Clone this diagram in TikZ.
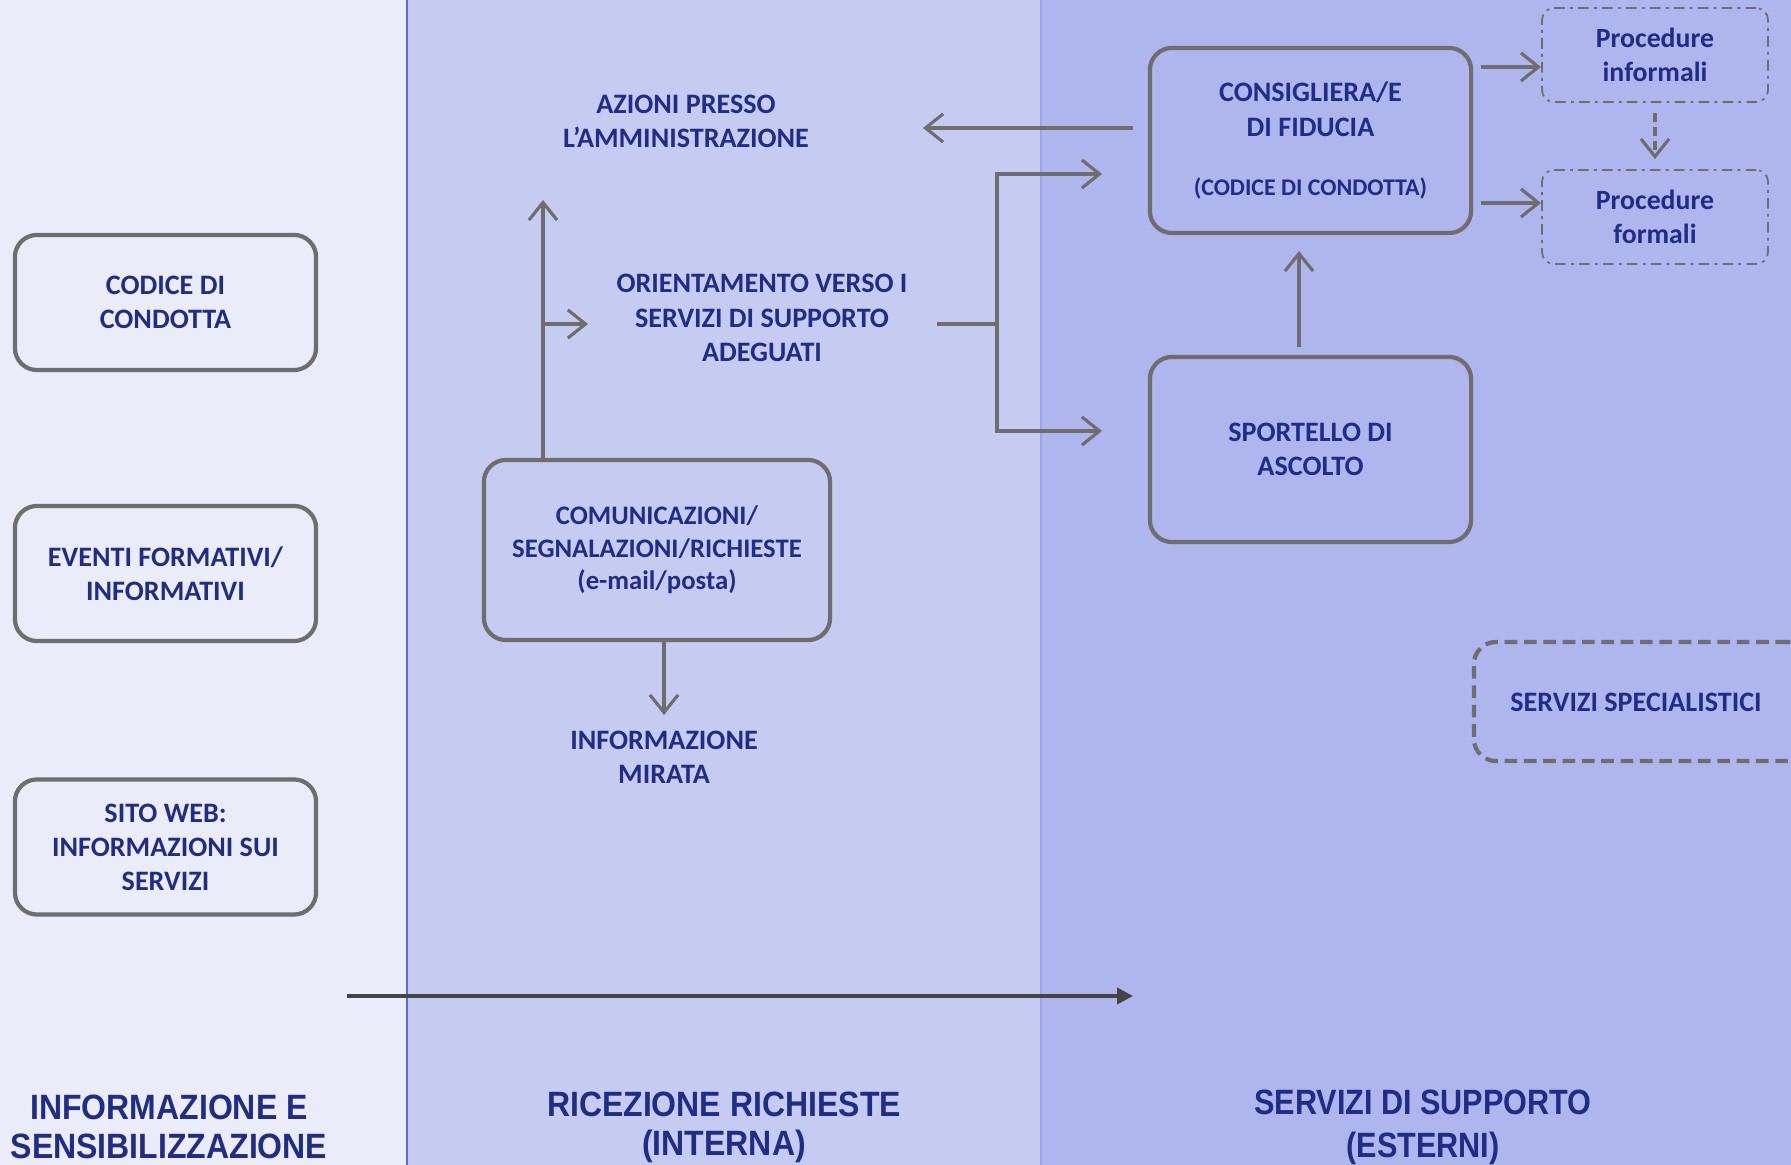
\documentclass[tikz,border=0pt]{standalone}
\usepackage{fontspec}
\setmainfont{Carlito}
\newfontfamily\titlefont[FakeStretch=0.91]{Liberation Sans}
\newfontfamily\titlefontnarrow[FakeStretch=0.87]{Liberation Sans}
\usetikzlibrary{arrows.meta}

\definecolor{colone}{RGB}{234,236,249}
\definecolor{coltwo}{RGB}{198,203,241}
\definecolor{colthree}{RGB}{175,182,238}
\definecolor{textblue}{RGB}{33,44,132}
\definecolor{linegray}{RGB}{110,110,110}
\definecolor{darkgray}{RGB}{68,68,68}
\definecolor{sepblue}{RGB}{90,105,220}
\definecolor{seplight}{RGB}{155,163,232}

\newcommand{\bodyfont}{\bfseries\fontsize{8}{9.7}\selectfont}
\newcommand{\procfont}{\bfseries\fontsize{7.9}{9.5}\selectfont}
\newcommand{\colfont}{\titlefont\bfseries\fontsize{10}{11.1}\selectfont}

\tikzset{
	box/.style={draw=linegray, line width=1.2pt, rounded corners=0.22cm, inner sep=0pt,
		text=textblue, align=center, font=\bodyfont},
	procbox/.style={draw=linegray, line width=0.5pt, rounded corners=0.12cm, inner sep=0pt,
		dash pattern=on 3pt off 1.5pt on 0.8pt off 1.5pt,
		minimum width=2.26cm, minimum height=0.94cm,
		text=textblue, align=center, font=\procfont},
	lbl/.style={text=textblue, align=center, font=\bodyfont},
	coltitle/.style={text=textblue, align=center, font=\colfont},
	arr/.style={draw=linegray, line width=0.9pt, -{Straight Barb[length=5pt,width=8pt]}},
	link/.style={draw=linegray, line width=0.9pt},
}

\begin{document}
\begin{tikzpicture}[x=0.01cm, y=-0.01cm]
	\useasboundingbox (0,0) rectangle (1791,1165);
	\clip (0,0) rectangle (1791,1165);
	% columns
	\fill[colone] (0,0) rectangle (407,1165);
	\fill[coltwo] (407,0) rectangle (1041,1165);
	\fill[colthree] (1041,0) rectangle (1791,1165);
	\draw[sepblue, line width=0.7pt] (407,0) -- (407,1165);
	\draw[seplight, line width=0.5pt] (1041,0) -- (1041,1165);

	% left column
	\node[box, minimum width=3.01cm, minimum height=1.35cm] (codice) at (165.5,302.5) {CODICE DI\\CONDOTTA};
	\node[box, minimum width=3.01cm, minimum height=1.35cm] (eventi) at (165.5,573.5) {EVENTI FORMATIVI/\\INFORMATIVI};
	\node[box, minimum width=3.01cm, minimum height=1.35cm] (sito) at (165.5,847) {SITO WEB:\\INFORMAZIONI SUI\\SERVIZI};

	% middle column
	\node[box, minimum width=3.46cm, minimum height=1.80cm, font=\bfseries\fontsize{7.6}{9.3}\selectfont] (comunic) at (657,550) {COMUNICAZIONI/\\SEGNALAZIONI/RICHIESTE\\(e-mail/posta)};
	\node[lbl] (azioni) at (686,121) {AZIONI PRESSO\\L’AMMINISTRAZIONE};
	\node[lbl] (orient) at (762,318) {ORIENTAMENTO VERSO I\\SERVIZI DI SUPPORTO\\ADEGUATI};
	\node[lbl] (mirata) at (664,757) {INFORMAZIONE\\MIRATA};

	% right column
	\node[box, minimum width=3.21cm, minimum height=1.85cm] (consigl) at (1310.5,140.5)
		{CONSIGLIERA/E\\DI FIDUCIA\\[0.25cm]{\bfseries\fontsize{6.8}{9}\selectfont(CODICE DI CONDOTTA)}};
	\node[box, minimum width=3.21cm, minimum height=1.85cm] (sportello) at (1310.5,449.5) {SPORTELLO DI\\ASCOLTO};
	\node[procbox] (informali) at (1655,55) {Procedure\\informali};
	\node[procbox] (formali) at (1655,217) {Procedure\\formali};
	\node[box, dash pattern=on 3.6pt off 1.9pt, minimum width=3.36cm, minimum height=1.19cm] (special) at (1642,701.5) {};
	\node[lbl] (speclbl) at (1636,702) {SERVIZI SPECIALISTICI};

	% column titles
	\node[coltitle] (titone) at (169,1127) {INFORMAZIONE E\\SENSIBILIZZAZIONE};
	\node[coltitle] (tittwo) at (724,1127) {RICEZIONE RICHIESTE\\(INTERNA)};
	\node[coltitle, font=\titlefontnarrow\bfseries\fontsize{10}{12.2}\selectfont] (titthree) at (1423,1127) {SERVIZI DI SUPPORTO\\(ESTERNI)};

	% connectors
	\coordinate (up) at (543,200);
	\coordinate (branch) at (543,324);
	\coordinate (toorient) at (588,324);
	\coordinate (fromorient) at (937,324);
	\coordinate (fork) at (997,324);
	\coordinate (tocons) at (1102,174);
	\coordinate (tosport) at (1102,431);
	\coordinate (consleft) at (1133,128);
	\coordinate (toazioni) at (923,128);
	\coordinate (sporttop) at (1299,347);
	\coordinate (consbot) at (1299,251);
	\coordinate (consr1) at (1481,67);
	\coordinate (consr2) at (1481,203);
	\coordinate (procdown) at (1655,113);
	\coordinate (procup) at (1655,159);
	\coordinate (mirtop) at (664,715);
	\coordinate (flowstart) at (347,996);
	\coordinate (flowend) at (1133,996);

	\draw[arr] (comunic.north -| up) -- (up);
	\draw[arr] (branch) -- (toorient);
	\draw[arr] (comunic.south -| mirtop) -- (mirtop);
	\draw[link] (fromorient) -- (fork);
	\draw[arr] (fork) |- (tocons);
	\draw[arr] (fork) |- (tosport);
	\draw[arr] (consleft) -- (toazioni);
	\draw[arr] (sporttop) -- (consbot);
	\draw[arr] (consr1) -- (consr1 -| informali.west);
	\draw[arr] (consr2) -- (consr2 -| formali.west);
	\draw[arr, dash pattern=on 2.5pt off 1.5pt] (procdown) -- (procup);
	\draw[darkgray, line width=1.1pt, -{Triangle[length=4.5pt,width=4.5pt]}] (flowstart) -- (flowend);
\end{tikzpicture}
\end{document}
